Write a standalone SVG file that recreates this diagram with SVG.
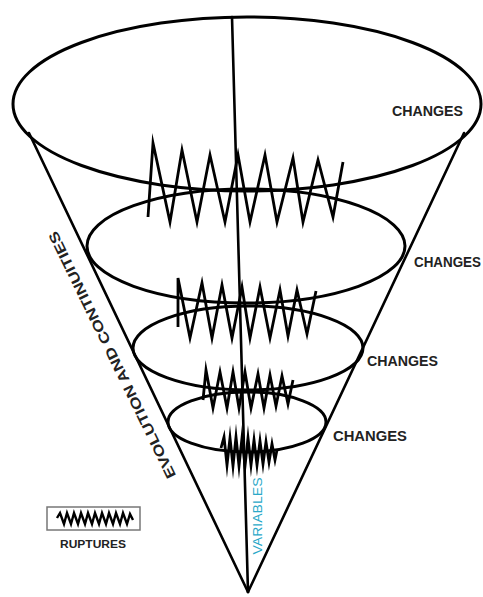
<svg xmlns="http://www.w3.org/2000/svg" width="483" height="597" viewBox="0 0 483 597">
<style>
.ln{fill:none;stroke:#000;stroke-width:2.6;stroke-linecap:round;stroke-linejoin:round}
.el{fill:none;stroke:#000;stroke-width:3}
.zz{fill:none;stroke:#000;stroke-width:2.8;stroke-linejoin:miter;stroke-miterlimit:10}
.lbl{font-family:"Liberation Sans",Arial,sans-serif;font-weight:bold;fill:#222}
</style>
<rect width="483" height="597" fill="#fff"/>
<g id="cone">
<line class="ln" x1="29" y1="133" x2="248" y2="592"/>
<line class="ln" x1="464" y1="133" x2="248" y2="592"/>
<line class="ln" x1="232" y1="17" x2="248" y2="592"/>
</g>
<g id="ellipse1"><ellipse class="el" cx="247" cy="104" rx="234" ry="87" stroke-width="3.4"/></g>
<g id="ellipse2"><ellipse class="el" cx="246" cy="246" rx="159" ry="57"/></g>
<g id="ellipse3"><ellipse class="el" cx="248" cy="348" rx="115" ry="42"/></g>
<g id="ellipse4"><ellipse class="el" cx="247" cy="422" rx="79" ry="30"/></g>
<g id="ruptures">
<polyline class="zz" points="148,217 153,143 170,222 182,150 197,222 210,155 225,222 238,155 250,222 265,155 277,222 293,158 303,222 318,160 333,217 343,162"/>
<polyline class="zz" points="178,327 178,278 190,338 202,283 212,338 222,285 232,338 242,287 250,338 260,287 270,338 280,290 288,336 297,290 307,334 316,291"/>
<polyline class="zz" points="203,400 206,370 213,408 220,372 227,408 233,372 239,408 245,372 251,408 258,374 264,408 270,375 276,406 282,376 288,404 293,380"/>
<polyline class="zz" stroke-width="2.5" points="221,448 224,437 227,465 230,438 233,466 236,437 239,466 242,438 245,466 248,438 251,465 254,440 257,465 260,441 263,464 266,442 269,462 272,444 275,460 277,450"/>
</g>
<g id="labels">
<text class="lbl" x="392" y="116" font-size="14" textLength="71" lengthAdjust="spacingAndGlyphs">CHANGES</text>
<text class="lbl" x="414" y="267" font-size="14" textLength="67" lengthAdjust="spacingAndGlyphs">CHANGES</text>
<text class="lbl" x="367" y="366" font-size="14" textLength="71" lengthAdjust="spacingAndGlyphs">CHANGES</text>
<text class="lbl" x="333" y="441" font-size="14" textLength="74" lengthAdjust="spacingAndGlyphs">CHANGES</text>
<text class="lbl" transform="translate(112,355) rotate(-116)" x="0" y="5" font-size="14" fill="#333" text-anchor="middle" textLength="273" lengthAdjust="spacingAndGlyphs">EVOLUTION AND CONTINUITIES</text>
<text transform="translate(257,516) rotate(-90)" x="0" y="4.5" font-family="Liberation Sans, Arial, sans-serif" font-size="13" fill="#2aa8c8" text-anchor="middle" textLength="77" lengthAdjust="spacingAndGlyphs">VARIABLES</text>
</g>
<g id="legend">
<rect x="47" y="507" width="93" height="23" fill="none" stroke="#777" stroke-width="1.5"/>
<polyline fill="none" stroke="#000" stroke-width="2.4" points="57,518 60,513 64,524 67,513 71,524 74,513 78,524 81,513 85,524 88,513 92,524 95,513 99,524 102,513 106,524 109,513 113,524 116,513 120,524 123,513 127,524 130,514 133,520"/>
<text class="lbl" x="93" y="548" font-size="11.5" fill="#444" text-anchor="middle" textLength="66" lengthAdjust="spacingAndGlyphs">RUPTURES</text>
</g>
</svg>
